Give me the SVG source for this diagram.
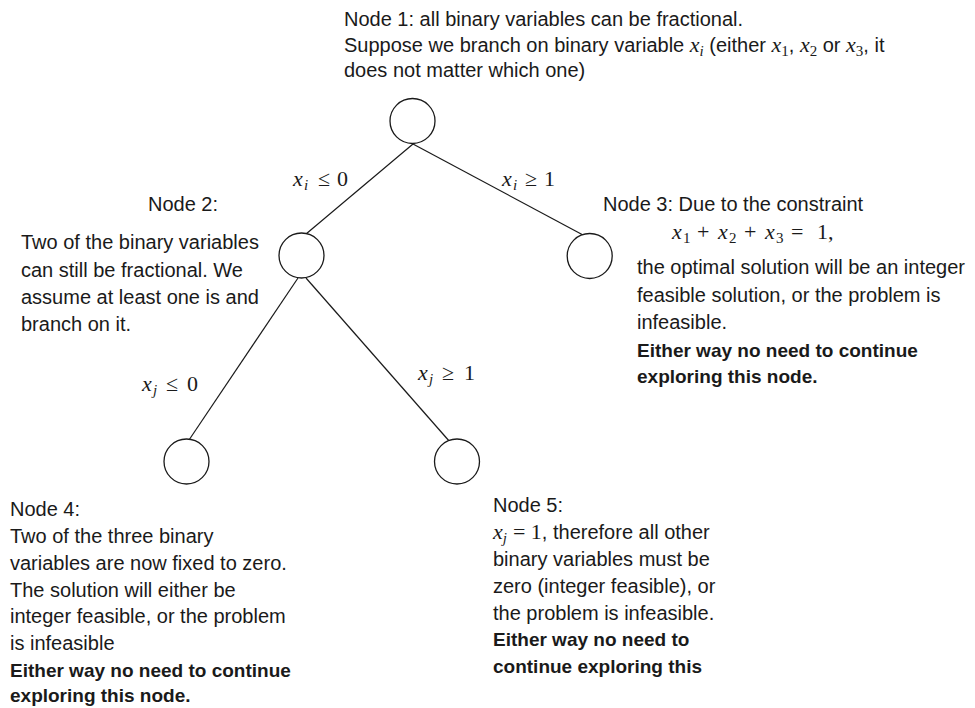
<svg xmlns="http://www.w3.org/2000/svg" width="975" height="708" viewBox="0 0 975 708">
<style>
  .t { font-family: "Liberation Sans", Arial, sans-serif; font-size: 20px; fill: #1a1a1a; }
  .b { font-family: "Liberation Sans", Arial, sans-serif; font-size: 19px; font-weight: bold; fill: #1a1a1a; }
  .m { font-family: "Liberation Serif", "Times New Roman", serif; font-size: 22px; fill: #1a1a1a; }
  .mi { font-family: "Liberation Serif", "Times New Roman", serif; font-style: italic; font-size: 22px; }
  .mr { font-family: "Liberation Serif", "Times New Roman", serif; font-style: normal; font-size: 22px; }
  .si { font-family: "Liberation Serif", "Times New Roman", serif; font-style: italic; font-size: 15px; }
  .sr { font-family: "Liberation Serif", "Times New Roman", serif; font-style: normal; font-size: 15px; }
  .node { fill: #ffffff; stroke: #1a1a1a; stroke-width: 1.3; }
  .edge { stroke: #1a1a1a; stroke-width: 1.2; fill: none; }
</style>
<rect width="975" height="708" fill="#ffffff"/>

<g id="connectors">
  <line class="edge" x1="413" y1="144" x2="306" y2="234"/>
  <line class="edge" x1="413" y1="144" x2="583" y2="235"/>
  <line class="edge" x1="298" y1="278" x2="189" y2="440"/>
  <line class="edge" x1="306" y1="278" x2="450" y2="442"/>
  <text class="m"><tspan class="mi" x="293" y="186">x</tspan><tspan class="si" x="304" y="190">i</tspan><tspan class="mr" x="318" y="186">≤</tspan><tspan class="mr" x="337" y="186">0</tspan></text>
  <text class="m"><tspan class="mi" x="502" y="186">x</tspan><tspan class="si" x="513" y="190">i</tspan><tspan class="mr" x="525" y="186">≥</tspan><tspan class="mr" x="544" y="186">1</tspan></text>
  <text class="m"><tspan class="mi" x="142" y="391">x</tspan><tspan class="si" x="153" y="395">j</tspan><tspan class="mr" x="166" y="391">≤</tspan><tspan class="mr" x="187" y="391">0</tspan></text>
  <text class="m"><tspan class="mi" x="418" y="380">x</tspan><tspan class="si" x="429" y="384">j</tspan><tspan class="mr" x="442" y="380">≥</tspan><tspan class="mr" x="464" y="380">1</tspan></text>
</g>

<g id="node1">
  <circle class="node" cx="412.5" cy="121" r="22.5"/>
  <text class="t" x="344" y="26">Node 1: all binary variables can be fractional.</text>
  <text class="t" x="344" y="52">Suppose we branch on binary variable <tspan class="mi">x</tspan><tspan class="si" dy="4">i</tspan><tspan dy="-4"> (either </tspan><tspan class="mi">x</tspan><tspan class="sr" dy="4">1</tspan><tspan dy="-4">, </tspan><tspan class="mi">x</tspan><tspan class="sr" dy="4">2</tspan><tspan dy="-4"> or </tspan><tspan class="mi">x</tspan><tspan class="sr" dy="4">3</tspan><tspan dy="-4">, it</tspan></text>
  <text class="t" x="344" y="77">does not matter which one)</text>
</g>

<g id="node2">
  <circle class="node" cx="301.5" cy="255.5" r="22.5"/>
  <text class="t" x="148" y="211">Node 2:</text>
  <text class="t" x="21" y="249">Two of the binary variables</text>
  <text class="t" x="21" y="277">can still be fractional. We</text>
  <text class="t" x="21" y="304">assume at least one is and</text>
  <text class="t" x="21" y="331">branch on it.</text>
</g>

<g id="node3">
  <circle class="node" cx="589.7" cy="256" r="22.5"/>
  <text class="t" x="603" y="211">Node 3: Due to the constraint</text>
  <text class="m"><tspan class="mi" x="672" y="239">x</tspan><tspan class="sr" x="683" y="243">1</tspan><tspan class="mr" x="697" y="239">+</tspan><tspan class="mi" x="718" y="239">x</tspan><tspan class="sr" x="729" y="243">2</tspan><tspan class="mr" x="744" y="239">+</tspan><tspan class="mi" x="765" y="239">x</tspan><tspan class="sr" x="776" y="243">3</tspan><tspan class="mr" x="791" y="239">=</tspan><tspan class="mr" x="817" y="239">1,</tspan></text>
  <text class="t" x="637" y="274">the optimal solution will be an integer</text>
  <text class="t" x="637" y="302">feasible solution, or the problem is</text>
  <text class="t" x="637" y="329">infeasible.</text>
  <text class="b" x="637" y="357">Either way no need to continue</text>
  <text class="b" x="637" y="383">exploring this node.</text>
</g>

<g id="node4">
  <circle class="node" cx="186.5" cy="461.5" r="22.5"/>
  <text class="t" x="10" y="516">Node 4:</text>
  <text class="t" x="10" y="543">Two of the three binary</text>
  <text class="t" x="10" y="570">variables are now fixed to zero.</text>
  <text class="t" x="10" y="597">The solution will either be</text>
  <text class="t" x="10" y="623">integer feasible, or the problem</text>
  <text class="t" x="10" y="650">is infeasible</text>
  <text class="b" x="10" y="677">Either way no need to continue</text>
  <text class="b" x="10" y="702">exploring this node.</text>
</g>

<g id="node5">
  <circle class="node" cx="457" cy="461.5" r="22.5"/>
  <text class="t" x="493" y="512">Node 5:</text>
  <text class="t" x="493" y="539"><tspan class="mi">x</tspan><tspan class="si" dy="4">j</tspan><tspan class="mr" dx="6" dy="-4">= 1</tspan><tspan>, therefore all other</tspan></text>
  <text class="t" x="493" y="566">binary variables must be</text>
  <text class="t" x="493" y="593">zero (integer feasible), or</text>
  <text class="t" x="493" y="620">the problem is infeasible.</text>
  <text class="b" x="493" y="646">Either way no need to</text>
  <text class="b" x="493" y="673">continue exploring this</text>
</g>
</svg>
